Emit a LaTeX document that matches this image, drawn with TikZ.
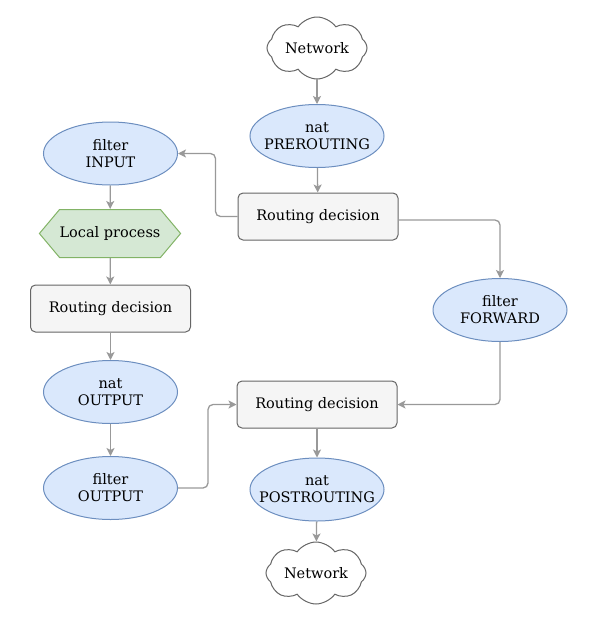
\documentclass[tikz,border=0pt]{standalone}
\usepackage{fontspec}
\setmainfont{DejaVu Serif}
\usepackage{tikz}
\usetikzlibrary{shapes.geometric, shapes.symbols, arrows.meta}
\usepackage{xcolor}
\definecolor{chainblue}{HTML}{DAE8FC}
\definecolor{chainborder}{HTML}{6C8EBF}
\definecolor{procgreen}{HTML}{D5E8D4}
\definecolor{procborder}{HTML}{82B366}
\definecolor{decfill}{HTML}{F5F5F5}
\definecolor{decborder}{HTML}{666666}
\definecolor{linkgray}{HTML}{999999}
\newcommand{\chainlabel}[2]{\makebox[60pt]{#1}\\\makebox[60pt]{#2}}

\begin{document}
\begin{tikzpicture}[x=1pt,y=-1pt,font=\fontsize{14.5}{17}\selectfont]
	\tikzstyle{chain} = [ellipse,fill=chainblue,draw=chainborder,line width=1pt,minimum width=134pt,minimum height=63pt,inner sep=0pt,align=center]
	\tikzstyle{decision} = [rectangle,rounded corners=5pt,fill=decfill,draw=decborder,line width=1pt,minimum width=160pt,minimum height=47pt]
	\tikzstyle{process} = [signal,signal to=east and west,signal pointer angle=100,fill=procgreen,draw=procborder,line width=1pt,minimum width=132pt,minimum height=48pt,inner xsep=0pt]
	\tikzstyle{net} = [cloud,cloud puffs=8,cloud puff arc=110,aspect=1.9,fill=white,draw=decborder,line width=1pt,minimum width=100pt,minimum height=54pt,inner sep=0pt]
	\tikzstyle{edge} = [draw=linkgray,line width=1.3pt,rounded corners=5pt,-{Stealth[length=8pt,width=8pt,inset=2pt]}]
	\useasboundingbox (0,0) rectangle (595,635);
	\node[net] (netin) at (317,48) {Network};
	\node[chain] (natpre) at (317,136) {\chainlabel{nat}{PREROUTING}};
	\node[decision] (rd1) at (318,216.5) {Routing decision};
	\node[chain] (fin) at (110.5,153.5) {\chainlabel{filter}{INPUT}};
	\node[process] (local) at (110,233.5) {Local process};
	\node[decision] (rd2) at (110.5,308.5) {Routing decision};
	\node[chain] (natout) at (110.5,392) {\chainlabel{nat}{OUTPUT}};
	\node[chain] (fout) at (110.5,488) {\chainlabel{filter}{OUTPUT}};
	\node[chain] (ffwd) at (500,310) {\chainlabel{filter}{FORWARD}};
	\node[decision] (rd3) at (317,404.5) {Routing decision};
	\node[chain] (natpost) at (317,489.5) {\chainlabel{nat}{POSTROUTING}};
	\node[net] (netout) at (316,573) {Network};

	\draw[edge] (netin)--(natpre);
	\draw[edge] (natpre)--(rd1);
	\draw[edge] (rd1.west)--++(-22,0)|-(fin.east);
	\draw[edge] ([yshift=-3.5pt]rd1.east)-|(ffwd.north);
	\draw[edge] (fin)--(local);
	\draw[edge] (local)--(rd2);
	\draw[edge] (rd2)--(natout);
	\draw[edge] (natout)--(fout);
	\draw[edge] (fout.east)--++(30,0)|-(rd3.west);
	\draw[edge] (ffwd.south)|-(rd3.east);
	\draw[edge] (rd3)--(natpost);
	\draw[edge] (natpost)--(netout);
\end{tikzpicture}
\end{document}
